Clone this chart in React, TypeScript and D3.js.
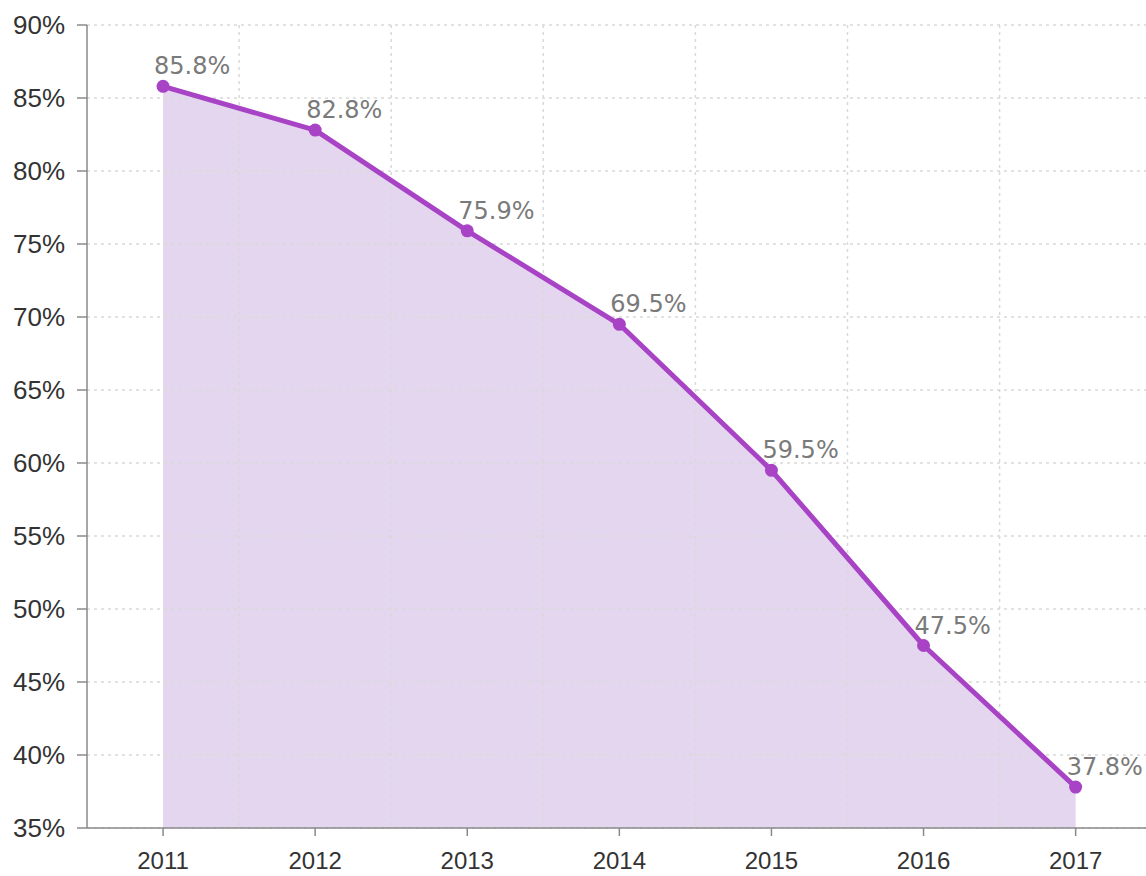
import React from "react";
import * as d3 from "d3";

const years: string[] = ["2011", "2012", "2013", "2014", "2015", "2016", "2017"];
const values: number[] = [85.8, 82.8, 75.9, 69.5, 59.5, 47.5, 37.8];
const yTicks: number[] = [35, 40, 45, 50, 55, 60, 65, 70, 75, 80, 85, 90];

const W = 1146;
const H = 876;
const left = 87;
const top = 25;
const bottom = 828;
const bandW = 152.1;

export default function App() {
  const x = d3.scaleBand<string>().domain(years).range([left, left + bandW * years.length]).padding(0);
  const cx = (d: string) => (x(d) as number) + x.bandwidth() / 2;
  const y = d3.scaleLinear().domain([35, 90]).range([bottom, top]);

  const pts = years.map((yr, i) => ({ yr, v: values[i] }));
  const line = d3.line<{ yr: string; v: number }>().x((d) => cx(d.yr)).y((d) => y(d.v));
  const area = d3
    .area<{ yr: string; v: number }>()
    .x((d) => cx(d.yr))
    .y0(y(35))
    .y1((d) => y(d.v));

  const bounds = years.slice(1).map((yr) => x(yr) as number);
  bounds.push(left + bandW * years.length);

  const gridColor = "#d9d9d9";
  const axisColor = "#8a8a8a";

  return (
    <svg width={W} height={H} style={{ position: "absolute", left: 0, top: 0, background: "#fff" }}>
      <path d={area(pts) || ""} fill="#e3d6ee" />
      {yTicks.map((t) => (
        <line key={"gy" + t} x1={left} x2={W} y1={y(t)} y2={y(t)} stroke={gridColor} strokeWidth={1.5} strokeDasharray="3,4" />
      ))}
      {bounds.map((b, i) => (
        <line key={"gx" + i} x1={b} x2={b} y1={top} y2={bottom} stroke={gridColor} strokeWidth={1.5} strokeDasharray="3,4" />
      ))}
      <line x1={left} x2={left} y1={top} y2={bottom} stroke={axisColor} strokeWidth={1.5} />
      <line x1={left} x2={W} y1={bottom} y2={bottom} stroke={axisColor} strokeWidth={1.5} />
      {yTicks.map((t) => (
        <g key={"ty" + t}>
          <line x1={left - 10} x2={left} y1={y(t)} y2={y(t)} stroke={axisColor} strokeWidth={1.5} />
          <text
            x={65}
            y={y(t)}
            dy="0.36em"
            textAnchor="end"
            fontFamily="Liberation Sans, Arial, sans-serif"
            fontSize={26}
            fill="#333"
          >
            {t}%
          </text>
        </g>
      ))}
      {years.map((yr) => (
        <g key={"tx" + yr}>
          <line x1={cx(yr)} x2={cx(yr)} y1={bottom} y2={bottom + 8} stroke={axisColor} strokeWidth={1.5} />
          <text
            x={cx(yr)}
            y={869}
            textAnchor="middle"
            fontFamily="Liberation Sans, Arial, sans-serif"
            fontSize={24}
            fill="#333"
          >
            {yr}
          </text>
        </g>
      ))}
      <path d={line(pts) || ""} fill="none" stroke="#a843c6" strokeWidth={5} strokeLinejoin="round" />
      {pts.map((p) => (
        <circle key={"c" + p.yr} cx={cx(p.yr)} cy={y(p.v)} r={6.5} fill="#a843c6" />
      ))}
      {pts.map((p) => (
        <text
          key={"l" + p.yr}
          x={cx(p.yr) - 9}
          y={y(p.v) - 12}
          fontFamily="DejaVu Sans, sans-serif"
          fontSize={24}
          fill="#7a7a7a"
        >
          {p.v.toFixed(1)}%
        </text>
      ))}
    </svg>
  );
}
